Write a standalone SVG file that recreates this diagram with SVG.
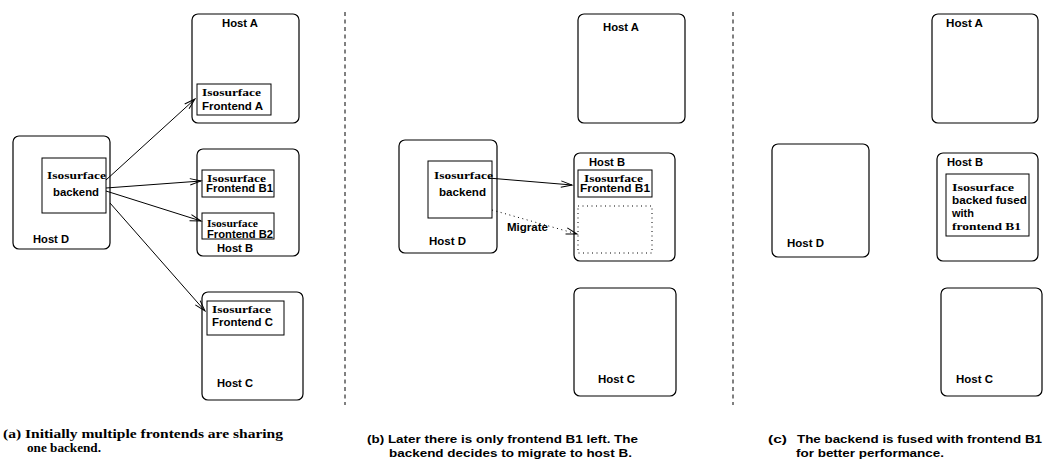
<svg xmlns="http://www.w3.org/2000/svg" width="1043" height="461" viewBox="0 0 1043 461">
  <style>
    .host { fill: #fff; stroke: #000; stroke-width: 1.2; }
    .box { fill: #fff; stroke: #000; stroke-width: 1; }
    .dotbox { fill: none; stroke: #000; stroke-width: 1; stroke-dasharray: 1 3.5; }
    .sep { stroke: #000; stroke-width: 1; stroke-dasharray: 4 3.5; }
    .edge { fill: none; stroke: #000; stroke-width: 1; }
    .dotedge { fill: none; stroke: #000; stroke-width: 1; stroke-dasharray: 1 3.5; }
    .sans { font-family: "Liberation Sans", Arial, sans-serif; font-weight: bold; font-size: 10px; fill: #000; }
    .serif { font-family: "Liberation Serif", "Times New Roman", serif; font-weight: bold; font-size: 10.5px; fill: #000; }
    .cap-serif { font-family: "Liberation Serif", "Times New Roman", serif; font-weight: bold; font-size: 12px; fill: #000; }
    .cap-sans { font-family: "Liberation Sans", Arial, sans-serif; font-weight: bold; font-size: 10.5px; fill: #000; }
  </style>
  <defs>
    <marker id="vee" markerUnits="userSpaceOnUse" markerWidth="14" markerHeight="10" viewBox="-12 -5 14 10" refX="0" refY="0" orient="auto">
      <path d="M-11,-3.2 L0,0 L-11,3.2" fill="none" stroke="#000" stroke-width="1"/>
    </marker>
  </defs>
  <rect width="1043" height="461" fill="#fff"/>

  <!-- panel separators -->
  <line class="sep" x1="345" y1="12" x2="345" y2="405"/>
  <line class="sep" x1="733" y1="12" x2="733" y2="405"/>

  <!-- ===== (a) shared backend ===== -->
  <g id="a-host-a">
    <rect class="host" x="192" y="14" width="107" height="109" rx="6"/>
    <text class="sans" x="222" y="27" textLength="36" lengthAdjust="spacingAndGlyphs">Host A</text>
  </g>
  <g id="a-frontend-a">
    <rect class="box" x="197" y="84" width="74" height="31"/>
    <text class="serif" x="202" y="96" textLength="59" lengthAdjust="spacingAndGlyphs">Isosurface</text>
    <text class="sans" x="202" y="110" textLength="61" lengthAdjust="spacingAndGlyphs">Frontend A</text>
  </g>
  <g id="a-host-d">
    <rect class="host" x="13" y="136" width="97" height="113" rx="6"/>
    <text class="sans" x="33" y="243" textLength="36" lengthAdjust="spacingAndGlyphs">Host D</text>
  </g>
  <g id="a-backend">
    <rect class="box" x="42" y="158" width="64" height="55"/>
    <text class="serif" x="47" y="179" textLength="59" lengthAdjust="spacingAndGlyphs">Isosurface</text>
    <text class="sans" x="53" y="196" textLength="46" lengthAdjust="spacingAndGlyphs">backend</text>
  </g>
  <g id="a-host-b">
    <rect class="host" x="197" y="149" width="102" height="107" rx="6"/>
    <text class="sans" x="217" y="252" textLength="36" lengthAdjust="spacingAndGlyphs">Host B</text>
  </g>
  <g id="a-frontend-b1">
    <rect class="box" x="202" y="170" width="72" height="27"/>
    <text class="serif" x="207" y="182" textLength="59" lengthAdjust="spacingAndGlyphs">Isosurface</text>
    <text class="sans" x="206" y="192" textLength="67" lengthAdjust="spacingAndGlyphs">Frontend B1</text>
  </g>
  <g id="a-frontend-b2">
    <rect class="box" x="202" y="213" width="72" height="26"/>
    <text class="serif" x="207" y="227" font-size="9.5" textLength="51" lengthAdjust="spacingAndGlyphs">Isosurface</text>
    <text class="sans" x="207" y="238" textLength="66" lengthAdjust="spacingAndGlyphs">Frontend B2</text>
  </g>
  <g id="a-host-c">
    <rect class="host" x="202" y="292" width="101" height="108" rx="6"/>
    <text class="sans" x="217" y="387" textLength="36" lengthAdjust="spacingAndGlyphs">Host C</text>
  </g>
  <g id="a-frontend-c">
    <rect class="box" x="207" y="301" width="77" height="34"/>
    <text class="serif" x="212" y="313" textLength="59" lengthAdjust="spacingAndGlyphs">Isosurface</text>
    <text class="sans" x="212" y="326" textLength="61" lengthAdjust="spacingAndGlyphs">Frontend C</text>
  </g>

  <!-- ===== (b) migration ===== -->
  <g id="b-host-a">
    <rect class="host" x="578" y="14" width="107" height="109" rx="6"/>
    <text class="sans" x="603" y="31" textLength="36" lengthAdjust="spacingAndGlyphs">Host A</text>
  </g>
  <g id="b-host-d">
    <rect class="host" x="399" y="140" width="98" height="113" rx="6"/>
    <text class="sans" x="429" y="245" textLength="37" lengthAdjust="spacingAndGlyphs">Host D</text>
  </g>
  <g id="b-backend">
    <rect class="box" x="428" y="161" width="64" height="57"/>
    <text class="serif" x="434" y="179" textLength="59" lengthAdjust="spacingAndGlyphs">Isosurface</text>
    <text class="sans" x="439" y="196" textLength="47" lengthAdjust="spacingAndGlyphs">backend</text>
  </g>
  <g id="b-host-b">
    <rect class="host" x="574" y="153" width="101" height="108" rx="6"/>
    <text class="sans" x="589" y="166" textLength="36" lengthAdjust="spacingAndGlyphs">Host B</text>
  </g>
  <g id="b-frontend-b1">
    <rect class="box" x="578" y="170" width="74" height="27"/>
    <text class="serif" x="584" y="182" textLength="59" lengthAdjust="spacingAndGlyphs">Isosurface</text>
    <text class="sans" x="580" y="192" textLength="70" lengthAdjust="spacingAndGlyphs">Frontend B1</text>
  </g>
  <g id="b-migration-slot">
    <rect class="dotbox" x="578" y="206" width="74" height="47"/>
  </g>
  <g id="b-host-c">
    <rect class="host" x="574" y="288" width="102" height="108" rx="6"/>
    <text class="sans" x="598" y="383" textLength="37" lengthAdjust="spacingAndGlyphs">Host C</text>
  </g>

  <!-- ===== (c) fused ===== -->
  <g id="c-host-a">
    <rect class="host" x="932" y="14" width="106" height="109" rx="6"/>
    <text class="sans" x="946" y="27" textLength="37" lengthAdjust="spacingAndGlyphs">Host A</text>
  </g>
  <g id="c-host-d">
    <rect class="host" x="772" y="144" width="97" height="113" rx="6"/>
    <text class="sans" x="787" y="247" textLength="37" lengthAdjust="spacingAndGlyphs">Host D</text>
  </g>
  <g id="c-host-b">
    <rect class="host" x="937" y="153" width="101" height="108" rx="6"/>
    <text class="sans" x="947" y="166" textLength="36" lengthAdjust="spacingAndGlyphs">Host B</text>
  </g>
  <g id="c-fused">
    <rect class="box" x="946" y="174" width="83" height="62"/>
    <text class="serif" x="952" y="191" textLength="62" lengthAdjust="spacingAndGlyphs">Isosurface</text>
    <text class="sans" x="952" y="204" textLength="75" lengthAdjust="spacingAndGlyphs">backed fused</text>
    <text class="sans" x="952" y="217" textLength="22" lengthAdjust="spacingAndGlyphs">with</text>
    <text class="serif" x="952" y="230" textLength="69" lengthAdjust="spacingAndGlyphs">frontend B1</text>
  </g>
  <g id="c-host-c">
    <rect class="host" x="941" y="288" width="101" height="108" rx="6"/>
    <text class="sans" x="956" y="383" textLength="37" lengthAdjust="spacingAndGlyphs">Host C</text>
  </g>

  <!-- connectors -->
  <g id="connectors">
    <line class="edge" x1="106" y1="180" x2="195" y2="99" marker-end="url(#vee)"/>
    <line class="edge" x1="106" y1="188" x2="201" y2="181" marker-end="url(#vee)"/>
    <line class="edge" x1="106" y1="191" x2="201" y2="221" marker-end="url(#vee)"/>
    <line class="edge" x1="110" y1="203" x2="205" y2="311" marker-end="url(#vee)"/>
    <line class="edge" x1="488" y1="178" x2="572" y2="185" marker-end="url(#vee)"/>
    <line class="dotedge" x1="492" y1="210" x2="577" y2="234" marker-end="url(#vee)"/>
    <text class="sans" x="507" y="231" textLength="41" lengthAdjust="spacingAndGlyphs">Migrate</text>
  </g>

  <!-- captions -->
  <g id="captions">
    <text class="cap-serif" x="3" y="438" textLength="280" lengthAdjust="spacingAndGlyphs">(a) Initially multiple frontends are sharing</text>
    <text class="cap-serif" x="27" y="452" textLength="74" lengthAdjust="spacingAndGlyphs">one backend.</text>
    <text class="cap-sans" x="367" y="443" textLength="271" lengthAdjust="spacingAndGlyphs">(b) Later there is only frontend B1 left. The</text>
    <text class="cap-sans" x="389" y="457" textLength="243" lengthAdjust="spacingAndGlyphs">backend decides to migrate to host B.</text>
    <text class="cap-sans" x="768" y="443" textLength="19" lengthAdjust="spacingAndGlyphs">(c)</text>
    <text class="cap-sans" x="797" y="443" textLength="245" lengthAdjust="spacingAndGlyphs">The backend is fused with frontend B1</text>
    <text class="cap-sans" x="796" y="457" textLength="148" lengthAdjust="spacingAndGlyphs">for better performance.</text>
  </g>
</svg>
